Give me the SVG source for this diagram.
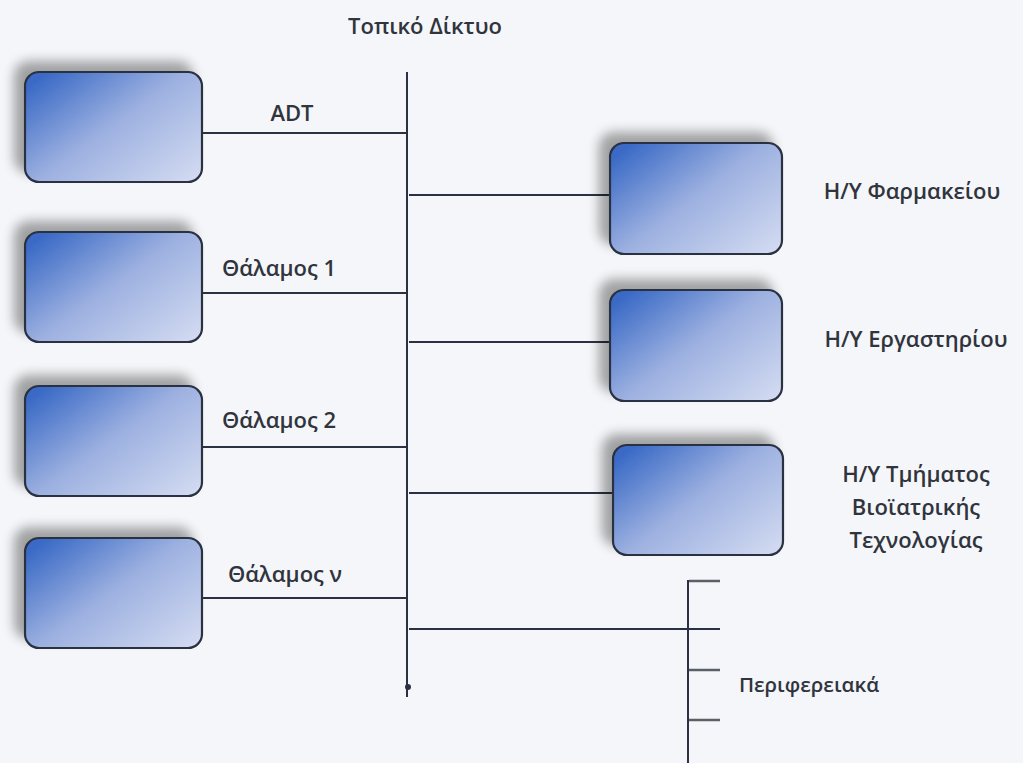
<svg xmlns="http://www.w3.org/2000/svg" width="1023" height="763" viewBox="0 0 1023 763">
<defs>
<linearGradient id="g" x1="0" y1="0.15" x2="1" y2="1">
<stop offset="0" stop-color="#3a6ac6"/>
<stop offset="0.45" stop-color="#9cb0e0"/>
<stop offset="1" stop-color="#d6ddf2"/>
</linearGradient>
<filter id="sh" x="-30%" y="-30%" width="160%" height="160%">
<feGaussianBlur in="SourceAlpha" stdDeviation="6" result="b"/>
<feOffset in="b" dx="-10" dy="-10" result="o"/>
<feComponentTransfer in="o" result="s"><feFuncA type="linear" slope="0.35"/></feComponentTransfer>
<feMerge><feMergeNode in="s"/><feMergeNode in="SourceGraphic"/></feMerge>
</filter>
</defs>
<style>
.box{fill:url(#g);stroke:#2a3142;stroke-width:2.2;filter:url(#sh)}
.ln{stroke:#2a3142;stroke-width:2;fill:none}
.t{font-family:"Open Sans","Liberation Sans",sans-serif;font-size:22px;font-weight:600;fill:#30343d}
.s{font-size:20.5px}
.tk{stroke:#5a5f68;stroke-width:2.5}
</style>
<rect width="1023" height="763" fill="#f5f6f9"/>
<text class="t" x="425" y="34" text-anchor="middle">Τοπικό Δίκτυο</text>
<g id="connectors">
<path class="ln" d="M407 72V697"/>
<path class="ln" d="M202 133H407"/>
<path class="ln" d="M202 293H407"/>
<path class="ln" d="M202 447H407"/>
<path class="ln" d="M202 598H407"/>
<path class="ln" d="M409 195H610"/>
<path class="ln" d="M409 342H610"/>
<path class="ln" d="M409 493H613"/>
<path class="ln" d="M409 629H720"/>
<circle cx="408" cy="687" r="3" fill="#2a3142"/>
</g>
<g id="adt"><rect class="box" x="25" y="72" width="177" height="110" rx="14"/><text class="t" x="292" y="121" text-anchor="middle">ADT</text></g>
<g id="thalamos1"><rect class="box" x="25" y="232" width="177" height="110" rx="14"/><text class="t" x="279" y="276" text-anchor="middle">Θάλαμος 1</text></g>
<g id="thalamos2"><rect class="box" x="25" y="386" width="177" height="110" rx="14"/><text class="t" x="279" y="428" text-anchor="middle">Θάλαμος 2</text></g>
<g id="thalamosn"><rect class="box" x="25" y="538" width="177" height="110" rx="14"/><text class="t" x="285" y="582" text-anchor="middle">Θάλαμος ν</text></g>
<g id="farmakeio"><rect class="box" x="610" y="143" width="172" height="111" rx="14"/><text class="t" x="912" y="199" text-anchor="middle">Η/Υ Φαρμακείου</text></g>
<g id="ergastirio"><rect class="box" x="610" y="290" width="172" height="111" rx="14"/><text class="t" x="916" y="347" text-anchor="middle">Η/Υ Εργαστηρίου</text></g>
<g id="bioiatriki"><rect class="box" x="613" y="445" width="170" height="110" rx="14"/>
<text class="t" x="916" y="482" text-anchor="middle">Η/Υ Τμήματος</text>
<text class="t" x="916" y="515" text-anchor="middle">Βιοϊατρικής</text>
<text class="t" x="916" y="548" text-anchor="middle">Τεχνολογίας</text></g>
<g id="perifereiaka">
<path class="ln" d="M688 580V763"/>
<path class="tk" d="M689 581H720M689 670H720M689 720H720"/>
<text class="t s" x="809" y="692" text-anchor="middle">Περιφερειακά</text>
</g>
</svg>
